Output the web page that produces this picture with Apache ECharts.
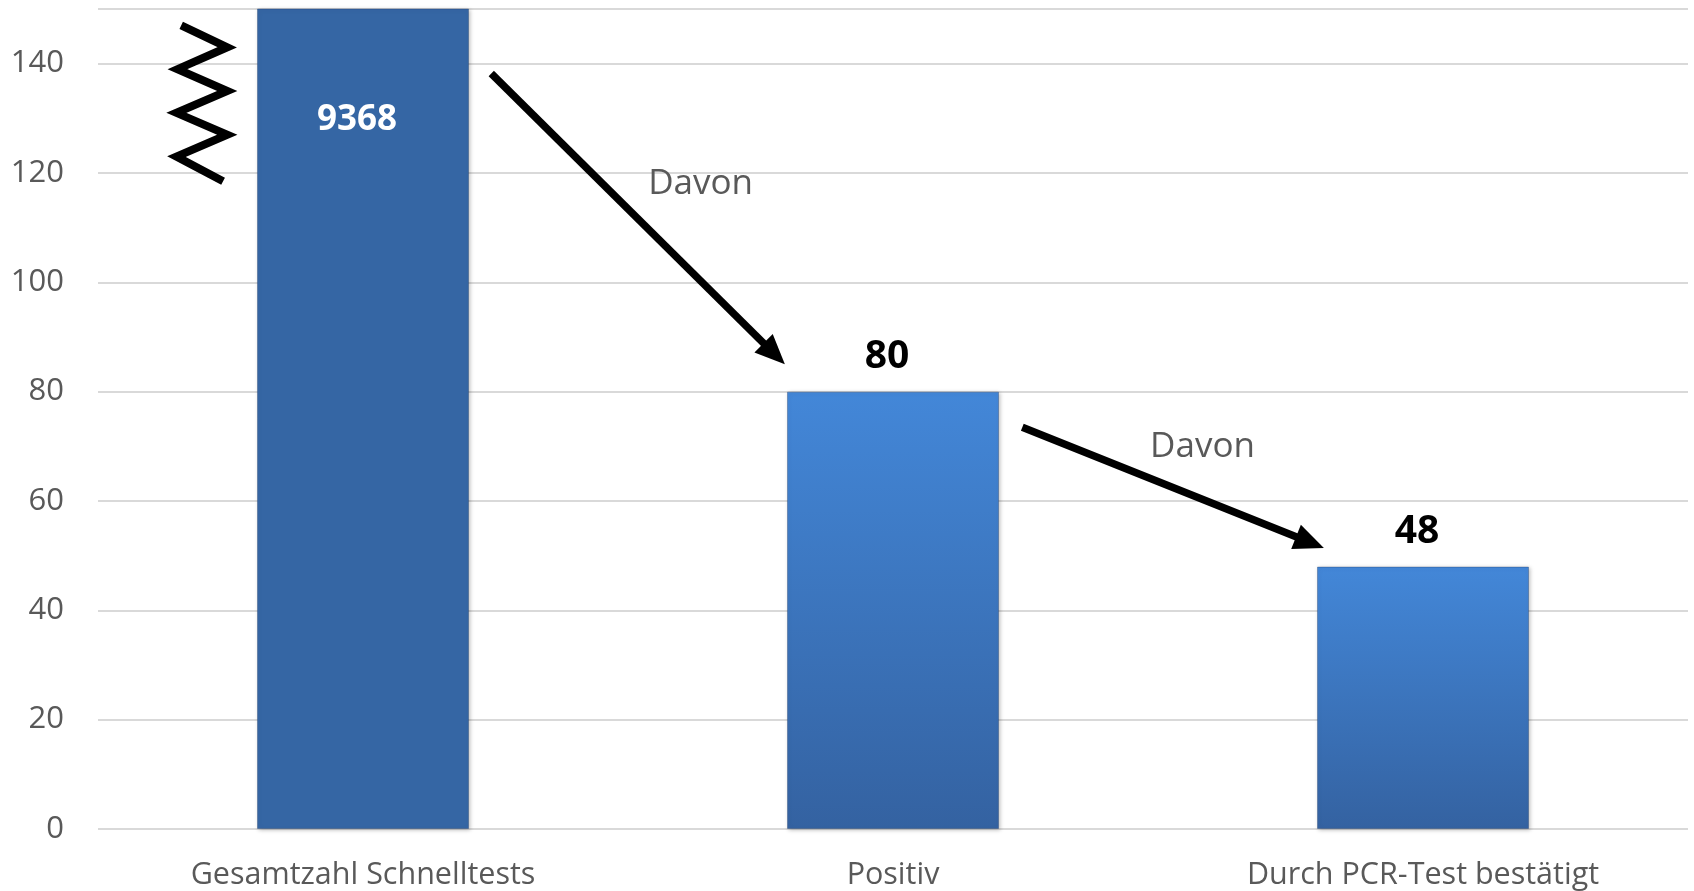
<!DOCTYPE html>
<html>
<head>
<meta charset="utf-8">
<script src="https://cdn.jsdelivr.net/npm/echarts@6/dist/echarts.min.js"></script>
<style>
html,body{margin:0;padding:0;background:#fff;}
#chart{width:1694px;height:891px;}
</style>
</head>
<body>
<div id="chart"></div>
<script>
// ---- data ----
const categories = ['Gesamtzahl Schnelltests', 'Positiv', 'Durch PCR-Test bestätigt'];
const values = [9368, 80, 48];
const yTicks = [0, 20, 40, 60, 80, 100, 120, 140];
const annotationText = 'Davon';
// arrows & break mark in data space: [category index (fractional), value]
const arrows = [
  [[0.242, 138.2], [0.796, 85.0]],
  [[1.244, 73.5], [1.813, 51.4]]
];
const davonLabels = [[0.637, 117.9], [1.584, 69.9]];
const breakMark = [
  [-0.343, 147.0], [-0.256, 143.0], [-0.350, 139.0], [-0.256, 135.0],
  [-0.352, 131.0], [-0.256, 127.0], [-0.352, 123.0], [-0.264, 118.5]
];

const FONT = '"Open Sans", Lato, sans-serif';
const chart = echarts.init(document.getElementById('chart'));

function grad() {
  return new echarts.graphic.LinearGradient(0, 0, 0, 1, [
    {offset: 0, color: '#4387d8'}, {offset: 1, color: '#3462a1'}
  ]);
}
const barColors = ['#3566a4', grad(), grad()];

chart.setOption({
  animation: false,
  backgroundColor: '#ffffff',
  grid: {left: 98, right: 6, top: 9, bottom: 62, containLabel: false},
  xAxis: {
    type: 'category',
    data: categories,
    axisLine: {show: false},
    axisTick: {show: false},
    axisLabel: {color: '#595959', fontSize: 30.5, fontFamily: FONT, margin: 31}
  },
  yAxis: {
    type: 'value',
    min: 0, max: 150, interval: 20,
    axisLine: {show: false},
    axisTick: {show: false},
    splitLine: {lineStyle: {color: '#d9d9d9', width: 2}},
    axisLabel: {
      color: '#595959', fontSize: 31, fontFamily: FONT, margin: 34,
      formatter: v => (yTicks.indexOf(v) >= 0 ? String(v) : '')
    }
  },
  series: [{
    type: 'bar',
    barWidth: '40%',
    clip: true,
    data: values.map((v, i) => ({
      value: v,
      itemStyle: {color: barColors[i]},
      label: i === 0
        ? {position: 'insideTop', distance: 94, color: '#ffffff', fontSize: 35}
        : {position: 'top', distance: 15, color: '#000000', fontSize: 39}
    })),
    itemStyle: {
      borderColor: 'rgba(30,60,110,0.35)', borderWidth: 1,
      shadowColor: 'rgba(0,0,0,0.25)', shadowBlur: 4, shadowOffsetX: 1, shadowOffsetY: 1
    },
    label: {show: true, fontWeight: 'bold', fontFamily: FONT, offset: [-6, 0]}
  }]
});

function px(pt) {
  const a = chart.convertToPixel({gridIndex: 0}, [0, pt[1]]);
  const c0 = chart.convertToPixel({xAxisIndex: 0}, 0);
  const c1 = chart.convertToPixel({xAxisIndex: 0}, 1);
  return [c0 + (c1 - c0) * pt[0], a[1]];
}

function arrowGraphics(p0, p1) {
  const s = px(p0), e = px(p1);
  const ang = Math.atan2(e[1] - s[1], e[0] - s[0]);
  const headLen = 30, headW = 13;
  const bx = e[0] - headLen * Math.cos(ang), by = e[1] - headLen * Math.sin(ang);
  const nx = -Math.sin(ang), ny = Math.cos(ang);
  return [
    {type: 'line', shape: {x1: s[0], y1: s[1], x2: bx + 2 * Math.cos(ang), y2: by + 2 * Math.sin(ang)},
     style: {stroke: '#000', lineWidth: 7.5}, z: 100},
    {type: 'polygon',
     shape: {points: [[e[0], e[1]], [bx + nx * headW, by + ny * headW], [bx - nx * headW, by - ny * headW]]},
     style: {fill: '#000'}, z: 100}
  ];
}

const g = [];
arrows.forEach(a => g.push(...arrowGraphics(a[0], a[1])));
davonLabels.forEach(p => {
  const q = px(p);
  g.push({type: 'text', x: q[0], y: q[1], z: 100,
    style: {text: annotationText, fill: '#595959', fontSize: 35, fontFamily: FONT,
      align: 'center', verticalAlign: 'middle'}});
});
g.push({type: 'polyline', z: 100,
  shape: {points: breakMark.map(px)},
  style: {stroke: '#000', lineWidth: 8, fill: null, lineJoin: 'miter'}});

chart.setOption({graphic: g});
</script>
</body>
</html>
